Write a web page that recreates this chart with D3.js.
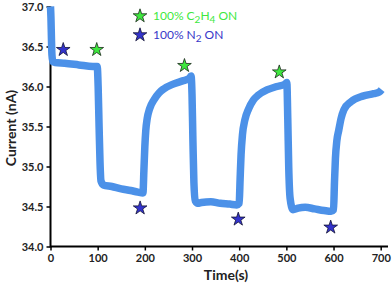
<!DOCTYPE html>
<html>
<head>
<meta charset="utf-8">
<script src="https://cdn.jsdelivr.net/npm/d3@7"></script>
<style>
  body { margin: 0; background: #fff; }
  .axis text { font-family: Lato, 'Open Sans', sans-serif; font-weight: bold; font-size: 11px; fill: #222; }
  .axis-label { font-family: Lato, 'Open Sans', sans-serif; font-weight: bold; font-size: 14px; fill: #222; }
  .legend { font-family: Lato, 'Open Sans', sans-serif; font-size: 12px; }
</style>
</head>
<body>
<div class="chart"></div>
<script>
// Time (s) and current (nA)
const times = [0, 1, 2, 3, 5, 10, 30, 60, 90, 99,
  101, 103, 105, 107, 112, 130, 150, 170, 185, 196,
  198, 200, 202, 205, 210, 220, 230, 240, 260, 280, 294, 298,
  300, 302, 304, 307, 312, 320, 340, 360, 380, 395, 400,
  402, 404, 407, 412, 420, 430, 440, 460, 480, 497, 501,
  503, 505, 508, 514, 525, 540, 560, 580, 595, 600,
  602, 604, 607, 611, 616, 622, 637, 662, 685, 697, 702];
const current = [37.00, 36.85, 36.60, 36.40, 36.31, 36.30, 36.29, 36.27, 36.25, 36.25,
  36.00, 35.50, 35.05, 34.82, 34.77, 34.75, 34.72, 34.70, 34.68, 34.67,
  34.95, 35.25, 35.45, 35.60, 35.72, 35.84, 35.92, 35.97, 36.03, 36.07, 36.10, 36.13,
  35.90, 35.30, 34.80, 34.57, 34.54, 34.55, 34.56, 34.54, 34.53, 34.52, 34.54,
  34.85, 35.15, 35.40, 35.58, 35.72, 35.83, 35.89, 35.96, 36.00, 36.03, 36.05,
  35.60, 35.00, 34.60, 34.46, 34.48, 34.49, 34.47, 34.45, 34.44, 34.46,
  34.80, 35.10, 35.32, 35.45, 35.60, 35.71, 35.81, 35.88, 35.91, 35.93, 35.96];

// Gas switch markers
const c2h4Times = [98, 284, 485];
const c2h4Values = [36.46, 36.26, 36.18];
const n2Times = [27, 190, 398, 594];
const n2Values = [36.46, 34.48, 34.34, 34.24];

const xTicks = [0, 100, 200, 300, 400, 500, 600, 700];
const yTicks = [34.0, 34.5, 35.0, 35.5, 36.0, 36.5, 37.0];

const width = 392, height = 285;

const svg = d3.select('.chart')
  .append('svg')
  .attr('width', width)
  .attr('height', height);

const x = d3.scaleLinear().domain([0, 700]).range([50.5, 380.7]);
const y = d3.scaleLinear().domain([34, 37]).range([246.5, 6.5]);

// Axes
const xAxis = svg.append('g')
  .attr('class', 'axis')
  .attr('transform', `translate(0,${y(34)})`)
  .call(d3.axisBottom(x).tickValues(xTicks).tickSize(4).tickSizeOuter(0).tickPadding(4));
xAxis.select('.domain').remove();
xAxis.selectAll('.tick line').attr('stroke', '#000').attr('stroke-width', 1.5);

const yAxis = svg.append('g')
  .attr('class', 'axis')
  .attr('transform', `translate(${x(0)},0)`)
  .call(d3.axisLeft(y).tickValues(yTicks).tickFormat(d3.format('.1f')).tickSize(4).tickSizeOuter(0).tickPadding(3));
yAxis.select('.domain').remove();
yAxis.selectAll('.tick line').attr('stroke', '#000').attr('stroke-width', 1.5);

svg.append('line')
  .attr('x1', x(0)).attr('x2', 388)
  .attr('y1', y(34)).attr('y2', y(34))
  .attr('stroke', '#000').attr('stroke-width', 2);
svg.append('line')
  .attr('x1', x(0)).attr('x2', x(0))
  .attr('y1', y(34) + 1).attr('y2', y(37))
  .attr('stroke', '#000').attr('stroke-width', 2);

// Current trace
const data = times.map((t, i) => ({ t: t, v: current[i] }));
const line = d3.line()
  .x(d => x(d.t))
  .y(d => y(d.v))
  .curve(d3.curveMonotoneX);

svg.append('path')
  .datum(data)
  .attr('d', line)
  .attr('fill', 'none')
  .attr('stroke', '#4c91e8')
  .attr('stroke-width', 7.5)
  .attr('stroke-linejoin', 'round');

// Stars
const star = d3.symbol().type(d3.symbolStar).size(58);

svg.selectAll('.star-c2h4')
  .data(c2h4Times.map((t, i) => ({ t: t, v: c2h4Values[i] })))
  .enter()
  .append('path')
  .attr('class', 'star-c2h4')
  .attr('d', star)
  .attr('transform', d => `translate(${x(d.t)},${y(d.v)})`)
  .attr('fill', '#3ee83e')
  .attr('stroke', '#1a2a1a')
  .attr('stroke-width', 0.8);

svg.selectAll('.star-n2')
  .data(n2Times.map((t, i) => ({ t: t, v: n2Values[i] })))
  .enter()
  .append('path')
  .attr('class', 'star-n2')
  .attr('d', star)
  .attr('transform', d => `translate(${x(d.t)},${y(d.v)})`)
  .attr('fill', '#3333cc')
  .attr('stroke', '#111133')
  .attr('stroke-width', 0.8);

// Legend
svg.append('path').attr('d', star)
  .attr('transform', 'translate(140,16)')
  .attr('fill', '#3ee83e').attr('stroke', '#1a2a1a').attr('stroke-width', 0.8);
svg.append('path').attr('d', star)
  .attr('transform', 'translate(140,35)')
  .attr('fill', '#3333cc').attr('stroke', '#111133').attr('stroke-width', 0.8);

const leg1 = svg.append('text').attr('class', 'legend')
  .attr('x', 153).attr('y', 20).attr('fill', '#3ee83e');
leg1.append('tspan').text('100% C');
leg1.append('tspan').attr('dy', 3).attr('font-size', '10px').text('2');
leg1.append('tspan').attr('dy', -3).text('H');
leg1.append('tspan').attr('dy', 3).attr('font-size', '10px').text('4');
leg1.append('tspan').attr('dy', -3).text(' ON');

const leg2 = svg.append('text').attr('class', 'legend')
  .attr('x', 153).attr('y', 39).attr('fill', '#3838c8');
leg2.append('tspan').text('100% N');
leg2.append('tspan').attr('dy', 3).attr('font-size', '10px').text('2');
leg2.append('tspan').attr('dy', -3).text(' ON');

// Axis labels
svg.append('text')
  .attr('class', 'axis-label')
  .attr('x', 226)
  .attr('y', 280)
  .attr('text-anchor', 'middle')
  .text('Time(s)');

svg.append('text')
  .attr('class', 'axis-label')
  .attr('x', -128)
  .attr('y', 16)
  .attr('text-anchor', 'middle')
  .attr('transform', 'rotate(-90)')
  .text('Current (nA)');
</script>
</body>
</html>
